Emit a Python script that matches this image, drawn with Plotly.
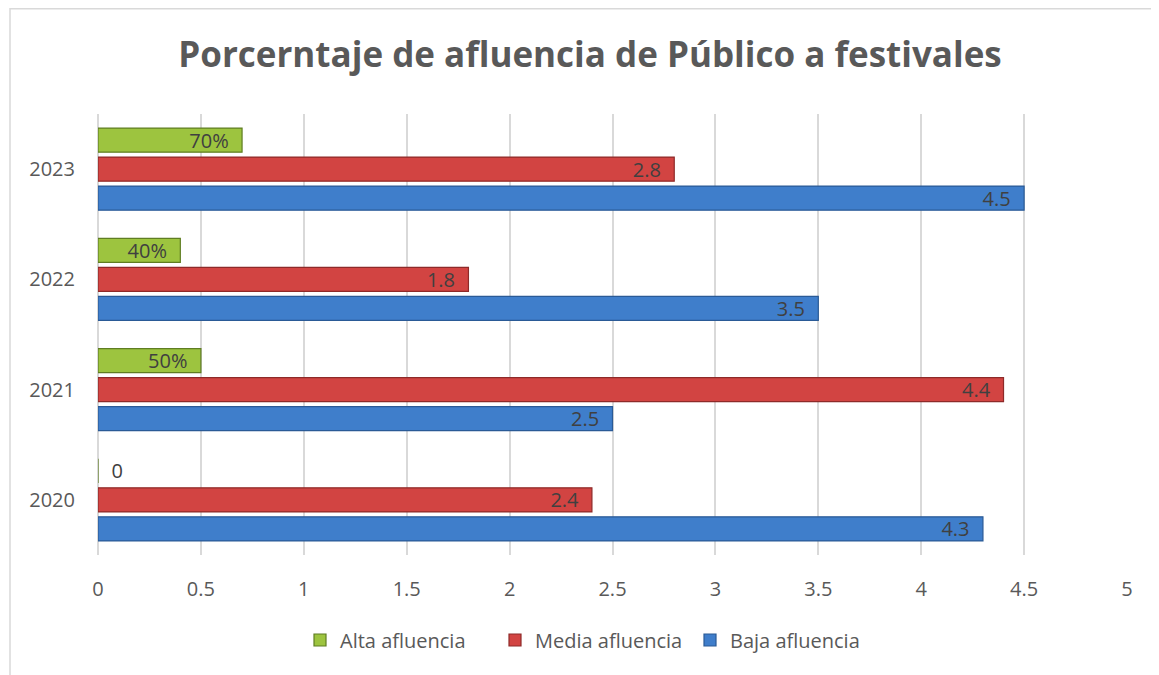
import plotly.graph_objects as go

years = ["2020", "2021", "2022", "2023"]
baja = [4.3, 2.5, 3.5, 4.5]
media = [2.4, 4.4, 1.8, 2.8]
alta = [0, 0.5, 0.4, 0.7]
alta_labels = ["0", "50%", "40%", "70%"]
x_ticks = [0, 0.5, 1, 1.5, 2, 2.5, 3, 3.5, 4, 4.5, 5]

OFF = 8  # page body margin
W, H = 1159 - OFF, 675 - OFF
L, R, T, B = 98 - OFF, 32, 114 - OFF, 120
pw, ph = W - L - R, H - T - B


def px(x):
    return (x - OFF - L) / pw


def py(y):
    return (H - B - (y - OFF)) / ph


FONT = "Open Sans, Liberation Sans, sans-serif"
txtfont = dict(family=FONT, size=20, color="#404040")
PAD = "\u00a0\u00a0"

fig = go.Figure()
fig.add_trace(go.Bar(
    y=years, x=baja, orientation="h", name="Baja afluencia",
    marker=dict(color="#3f7ecb", line=dict(color="#2a5a96", width=1.2)),
    text=[f"{v}{PAD}" for v in baja], textposition="inside", insidetextanchor="end",
    textfont=txtfont, constraintext="none", cliponaxis=False,
))
fig.add_trace(go.Bar(
    y=years, x=media, orientation="h", name="Media afluencia",
    marker=dict(color="#d24442", line=dict(color="#8e2a29", width=1.2)),
    text=[f"{v}{PAD}" for v in media], textposition="inside", insidetextanchor="end",
    textfont=txtfont, constraintext="none", cliponaxis=False,
))
fig.add_trace(go.Bar(
    y=years, x=alta, orientation="h", name="Alta afluencia",
    marker=dict(color="#9dc43f", line=dict(color="#5f7d22", width=1.2)),
    text=[("\u00a0\u00a0" + t) if v == 0 else (t + PAD) for t, v in zip(alta_labels, alta)],
    textposition=["outside" if v == 0 else "inside" for v in alta],
    insidetextanchor="end",
    textfont=txtfont, outsidetextfont=txtfont, constraintext="none", cliponaxis=False,
))

fig.update_layout(
    width=W, height=H,
    margin=dict(l=L, r=R, t=T, b=B),
    paper_bgcolor="white", plot_bgcolor="white",
    barmode="group", bargap=0.21, bargroupgap=0.17,
    title=dict(
        text="<b>Porcerntaje de afluencia de Público a festivales</b>",
        x=px(590) * pw / W + L / W, xanchor="center",
        y=1 - (55 - OFF) / H, yanchor="middle",
        font=dict(family=FONT, size=35, color="#595959"),
    ),
    xaxis=dict(
        range=[0, 5], tickvals=x_ticks, ticktext=[f"{v:g}" for v in x_ticks],
        showgrid=True, gridcolor="#d9d9d9", gridwidth=1.5,
        zeroline=True, zerolinecolor="#d9d9d9", zerolinewidth=1.5,
        showline=False, ticks="", ticklabelstandoff=20,
        tickfont=dict(family=FONT, size=20, color="#595959"),
    ),
    yaxis=dict(
        type="category", categoryorder="array", categoryarray=years,
        showgrid=False, showline=False, ticks="", ticklabelstandoff=22,
        tickfont=dict(family=FONT, size=20, color="#595959"),
    ),
    legend=dict(
        orientation="h", traceorder="reversed",
        x=px(300), xanchor="left", y=py(640), yanchor="middle",
        font=dict(family=FONT, size=20, color="#595959"),
        itemwidth=30, entrywidth=150, entrywidthmode="pixels",
    ),
    shapes=[
        dict(type="line", xref="paper", yref="paper", x0=px(10), x1=px(1170),
             y0=py(OFF + 0.75), y1=py(OFF + 0.75), line=dict(color="#d9d9d9", width=1.5)),
        dict(type="line", xref="paper", yref="paper", x0=px(10), x1=px(10),
             y0=py(OFF), y1=py(680), line=dict(color="#d9d9d9", width=1.5)),
    ],
)

fig.write_html("out.html")
